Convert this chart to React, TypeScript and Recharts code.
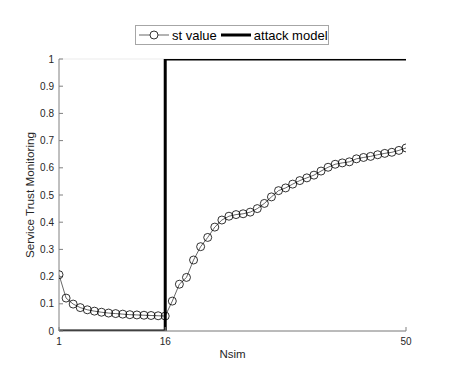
import { CartesianGrid, Legend, Line, LineChart, XAxis, YAxis } from "recharts";

const nsim = [
  1, 2, 3, 4, 5, 6, 7, 8, 9, 10, 11, 12, 13, 14, 15, 16, 17, 18, 19, 20, 21, 22, 23, 24, 25,
  26, 27, 28, 29, 30, 31, 32, 33, 34, 35, 36, 37, 38, 39, 40, 41, 42, 43, 44, 45, 46, 47, 48,
  49, 50
];

const stValue = [
  0.207, 0.121, 0.099, 0.086, 0.078, 0.073, 0.069, 0.066, 0.064, 0.062, 0.06, 0.059, 0.058,
  0.057, 0.056, 0.055, 0.11, 0.172, 0.197, 0.261, 0.31, 0.344, 0.382, 0.408, 0.422, 0.428,
  0.431, 0.437, 0.45, 0.469, 0.493, 0.516, 0.526, 0.54, 0.553, 0.563, 0.573, 0.588, 0.602,
  0.613, 0.618, 0.622, 0.633, 0.638, 0.642, 0.648, 0.653, 0.657, 0.664, 0.673
];

const attackModel = [
  0, 0, 0, 0, 0, 0, 0, 0, 0, 0, 0, 0, 0, 0, 0, 1, 1, 1, 1, 1, 1, 1, 1, 1, 1, 1, 1, 1, 1, 1,
  1, 1, 1, 1, 1, 1, 1, 1, 1, 1, 1, 1, 1, 1, 1, 1, 1, 1, 1, 1
];

const xTicks = [1, 16, 50];
const yTicks = [0, 0.1, 0.2, 0.3, 0.4, 0.5, 0.6, 0.7, 0.8, 0.9, 1];

const FONT = '"Liberation Sans", Arial, Helvetica, sans-serif';
const AXIS = "#808080";
const TICK_TEXT = "#262626";

const data = nsim.map((n, i) => ({ n, st: stValue[i], attack: attackModel[i] }));

function LegendBox() {
  return (
    <div
      style={{
        boxSizing: "border-box",
        width: 194,
        height: 20,
        border: "1px solid #a6a6a6",
        background: "#fff",
        display: "flex",
        alignItems: "center",
        fontFamily: FONT,
        fontSize: 13,
        color: "#000",
        paddingLeft: 2,
        whiteSpace: "nowrap"
      }}
    >
      <svg width={32} height={14} style={{ display: "block" }}>
        <line x1={1} y1={7} x2={31} y2={7} stroke="#000" strokeWidth={0.6} />
        <circle cx={16} cy={7} r={4} fill="#fff" stroke="#000" strokeWidth={0.8} />
      </svg>
      <span style={{ marginLeft: 2 }}>st value</span>
      <svg width={32} height={14} style={{ display: "block", marginLeft: 3 }}>
        <line x1={1} y1={7} x2={31} y2={7} stroke="#000" strokeWidth={3} />
      </svg>
      <span style={{ marginLeft: 2 }}>attack model</span>
    </div>
  );
}

export default function App() {
  return (
    <div style={{ position: "absolute", left: 0, top: 0, background: "#fff" }}>
      <LineChart
        width={449}
        height={368}
        data={data}
        margin={{ top: 59, right: 43, bottom: 23, left: 29 }}
      >
        <CartesianGrid stroke="#ebebeb" strokeWidth={1} vertical={false} />
        <XAxis
          xAxisId="b"
          dataKey="n"
          type="number"
          domain={[1, 50]}
          ticks={xTicks}
          allowDataOverflow
          height={14}
          stroke={AXIS}
          tickSize={-4}
          tickMargin={11}
          tick={{ fontSize: 10, fill: TICK_TEXT, fontFamily: FONT }}
          label={{
            value: "Nsim",
            position: "bottom",
            offset: 5,
            style: { fontSize: 11.5, fill: TICK_TEXT, fontFamily: FONT }
          }}
        />
        <XAxis
          xAxisId="t"
          dataKey="n"
          type="number"
          orientation="top"
          domain={[1, 50]}
          ticks={xTicks}
          allowDataOverflow
          height={0}
          stroke={AXIS}
          tickSize={-4}
          tickFormatter={() => ""}
        />
        <YAxis
          yAxisId="l"
          type="number"
          domain={[0, 1]}
          ticks={yTicks}
          allowDataOverflow
          width={30}
          stroke={AXIS}
          tickSize={-4}
          tickMargin={9}
          tick={{ fontSize: 10, fill: TICK_TEXT, fontFamily: FONT }}
          label={{
            value: "Service Trust Monitoring",
            angle: -90,
            position: "insideLeft",
            offset: 1,
            style: { fontSize: 11.7, fill: TICK_TEXT, fontFamily: FONT, textAnchor: "middle" }
          }}
        />
        <YAxis
          yAxisId="r"
          type="number"
          orientation="right"
          domain={[0, 1]}
          ticks={yTicks}
          allowDataOverflow
          width={0}
          stroke={AXIS}
          tickSize={-4}
          tickFormatter={() => ""}
        />
        <Legend
          layout="horizontal"
          verticalAlign="middle"
          align="center"
          wrapperStyle={{ top: 25, left: 135, width: 194, height: 20 }}
          content={() => <LegendBox />}
        />
        <Line
          xAxisId="b"
          yAxisId="l"
          type="stepAfter"
          dataKey="attack"
          name="attack model"
          stroke="#000"
          strokeWidth={3}
          dot={false}
          activeDot={false}
          isAnimationActive={false}
        />
        <Line
          xAxisId="b"
          yAxisId="l"
          type="linear"
          dataKey="st"
          name="st value"
          stroke="#000"
          strokeWidth={0.6}
          dot={{ r: 4, stroke: "#000", strokeWidth: 0.8, fill: "none" }}
          activeDot={false}
          isAnimationActive={false}
        />
      </LineChart>
    </div>
  );
}
